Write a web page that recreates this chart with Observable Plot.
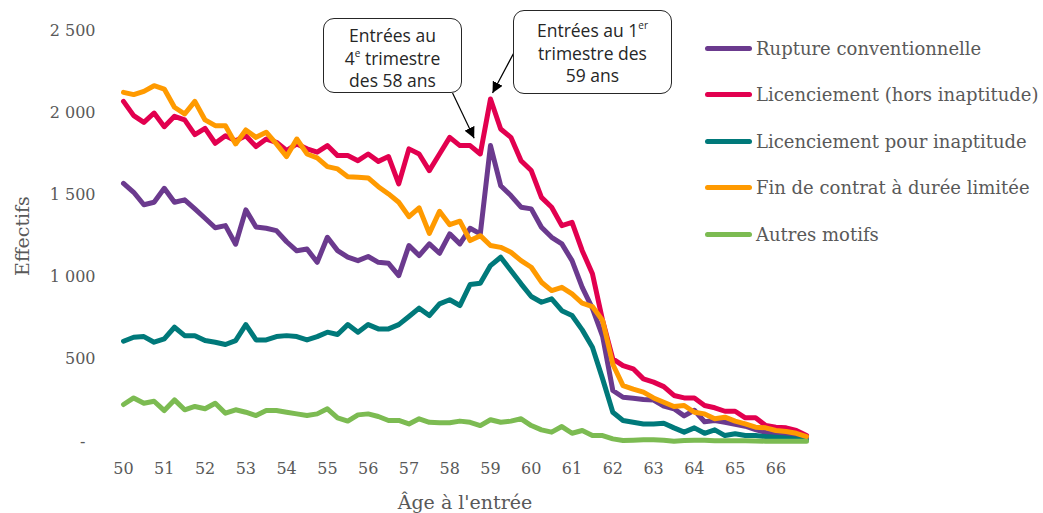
<!DOCTYPE html>
<html>
<head>
<meta charset="utf-8">
<script src="https://cdn.jsdelivr.net/npm/d3@7"></script>
<script src="https://cdn.jsdelivr.net/npm/@observablehq/plot@0.6"></script>
<style>
  body { margin: 0; background: white; }
  #wrap { position: relative; width: 1043px; height: 513px; overflow: hidden; }
  .legend { position: absolute; left: 705px; top: 25px; font-family: "DejaVu Serif", serif; font-size: 18px; color: #595959; }
  .legend .row { display: flex; align-items: center; height: 46.5px; white-space: nowrap; }
  .legend .sw { width: 47px; height: 5px; border-radius: 3px; margin-right: 4px; }
  .note { position: absolute; box-sizing: border-box; border: 1.3px solid #262626; border-radius: 11px; background: white;
          font-family: "Open Sans", sans-serif; font-size: 17.5px; line-height: 22.5px; color: #262626; text-align: center; }
  .note .ln { display: block; height: 22.5px; }
  .note sup { font-size: 10px; line-height: 0; vertical-align: 8px; }
</style>
</head>
<body>
<div id="wrap"></div>
<script>
// ---- data ----
const series = ["Rupture conventionnelle", "Licenciement (hors inaptitude)", "Licenciement pour inaptitude", "Fin de contrat à durée limitée", "Autres motifs"];
const colors = ["#6b3a8e", "#e2004f", "#00797a", "#ff9a00", "#7cbb52"];

// quarterly entry ages, 50 to 66.75
const ages = d3.range(68).map(i => 50 + i / 4);

const rupture = [1570, 1516, 1440, 1455, 1540, 1455, 1470, 1415, 1358, 1300, 1313, 1200, 1409, 1305, 1297, 1283, 1215,
  1160, 1171, 1090, 1242, 1161, 1121, 1100, 1125, 1090, 1084, 1009, 1192, 1131, 1202, 1145, 1263,
  1202, 1297, 1263, 1800, 1556, 1496, 1425, 1415, 1303, 1242, 1202, 1100, 938, 810, 640, 310, 269,
  263, 255, 252, 215, 199, 156, 190, 120, 128, 117, 105, 93, 72, 55, 45, 35, 28, 22];
const licenciement = [2069, 1982, 1941, 1998, 1915, 1978, 1956, 1867, 1905, 1814, 1860, 1830, 1860, 1794, 1840, 1820, 1770,
  1810, 1780, 1760, 1800, 1739, 1739, 1708, 1749, 1704, 1733, 1567, 1780, 1749, 1648, 1749, 1850,
  1800, 1800, 1749, 2083, 1901, 1850, 1708, 1648, 1485, 1425, 1313, 1333, 1161, 1020, 736, 503, 462,
  442, 381, 361, 334, 280, 265, 265, 219, 205, 184, 184, 144, 144, 97, 87, 83, 67, 36];
const inaptitude = [610, 634, 638, 604, 624, 695, 644, 644, 614, 604, 590, 614, 711, 618, 618, 638, 644,
  638, 618, 638, 665, 651, 711, 665, 711, 685, 685, 711, 760, 811, 766, 837, 862,
  827, 955, 963, 1070, 1121, 1040, 959, 882, 847, 868, 796, 766, 679, 573, 381, 178, 128,
  117, 107, 107, 111, 83, 57, 83, 50, 71, 36, 47, 36, 36, 30, 26, 22, 16, 8];
const finContrat = [2124, 2110, 2130, 2164, 2144, 2033, 1992, 2069, 1956, 1921, 1921, 1810, 1895, 1850, 1881, 1810, 1733,
  1840, 1749, 1725, 1672, 1658, 1611, 1607, 1603, 1550, 1506, 1455, 1368, 1421, 1266, 1400, 1319,
  1340, 1222, 1252, 1192, 1181, 1151, 1100, 1060, 969, 918, 938, 898, 841, 821, 736, 470, 340,
  318, 300, 265, 239, 213, 219, 178, 168, 138, 148, 124, 107, 87, 83, 67, 61, 50, 30];
const autres = [225, 265, 233, 245, 188, 253, 193, 213, 199, 233, 172, 193, 178, 158, 188, 188, 178,
  168, 158, 168, 199, 144, 124, 162, 168, 152, 128, 128, 107, 138, 117, 114, 114,
  124, 117, 97, 132, 117, 124, 138, 97, 71, 57, 91, 50, 67, 36, 36, 16, 6,
  8, 10, 10, 8, 2, 6, 8, 8, 5, 4, 4, 4, 3, 2, 2, 2, 1, 1];

const yTicks = [0, 500, 1000, 1500, 2000, 2500];
const xTicks = [50, 51, 52, 53, 54, 55, 56, 57, 58, 59, 60, 61, 62, 63, 64, 65, 66];

// annotations: callout boxes and arrows (data coordinates for arrows)
const notes = [
  {lines: ["Entrées au", "4<sup>e</sup> trimestre", "des 58 ans"], left: 323, top: 18, width: 139, height: 75, pad: 5},
  {lines: ["Entrées au 1<sup>er</sup>", "trimestre des", "59 ans"], left: 513, top: 10, width: 159, height: 84, pad: 8}
];
const arrows = [
  {x1: 58.07, y1: 2120, x2: 58.6, y2: 1845},
  {x1: 59.58, y1: 2367, x2: 59.05, y2: 2120}
];

// ---- build ----
const values = [rupture, licenciement, inaptitude, finContrat, autres];
const data = [];
series.forEach((s, k) => values[k].forEach((v, i) => data.push({serie: s, age: ages[i], value: v})));

const locale = d3.formatLocale({thousands: "\u00a0", grouping: [3], decimal: ","});
const fmt = d => d === 0 ? "-\u00a0\u00a0" : locale.format(",")(d);

const chart = Plot.plot({
  width: 1043,
  height: 513,
  marginTop: 30,
  marginBottom: 72,
  marginLeft: 123,
  marginRight: 237,
  style: {fontFamily: "DejaVu Serif", fontSize: "16px", color: "#595959", background: "transparent"},
  x: {domain: [50, 66.75]},
  y: {domain: [0, 2500]},
  color: {domain: series, range: colors},
  marks: [
    Plot.axisY(yTicks, {tickSize: 0, tickPadding: 28, tickFormat: fmt, label: "Effectifs", labelAnchor: "center", labelOffset: 108, labelArrow: "none"}),
    Plot.axisX(xTicks, {tickSize: 0, tickPadding: 21, tickFormat: d => String(d), label: "Âge à l'entrée", labelAnchor: "center", labelOffset: 67, labelArrow: "none"}),
    Plot.line(data, {x: "age", y: "value", z: "serie", stroke: "serie", strokeWidth: 5, strokeLinejoin: "round", strokeLinecap: "round"}),
    Plot.link(arrows, {x1: "x1", y1: "y1", x2: "x2", y2: "y2", stroke: "#000", strokeWidth: 1.2})
  ]
});

const wrap = document.getElementById("wrap");
wrap.appendChild(chart);

// bigger axis titles
const svg = d3.select(chart);
svg.selectAll('[aria-label="y-axis label"] text, [aria-label="x-axis label"] text').attr("font-size", 19);

// filled arrowheads
const defs = svg.insert("defs", ":first-child");
defs.append("marker").attr("id", "tri").attr("viewBox", "0 0 10 10").attr("refX", 10).attr("refY", 5)
  .attr("markerWidth", 11).attr("markerHeight", 11).attr("orient", "auto").attr("markerUnits", "userSpaceOnUse")
  .append("path").attr("d", "M0,0L10,5L0,10Z").attr("fill", "#000");
svg.selectAll('[aria-label="link"] path').attr("marker-end", "url(#tri)");

// legend
const legend = document.createElement("div");
legend.className = "legend";
series.forEach((s, k) => {
  const row = document.createElement("div");
  row.className = "row";
  row.innerHTML = `<span class="sw" style="background:${colors[k]}"></span><span>${s}</span>`;
  legend.appendChild(row);
});
wrap.appendChild(legend);

// callout boxes
notes.forEach(n => {
  const d = document.createElement("div");
  d.className = "note";
  Object.assign(d.style, {left: n.left + "px", top: n.top + "px", width: n.width + "px", height: n.height + "px", paddingTop: n.pad + "px"});
  d.innerHTML = n.lines.map(l => `<span class="ln">${l}</span>`).join("");
  wrap.appendChild(d);
});
</script>
</body>
</html>
